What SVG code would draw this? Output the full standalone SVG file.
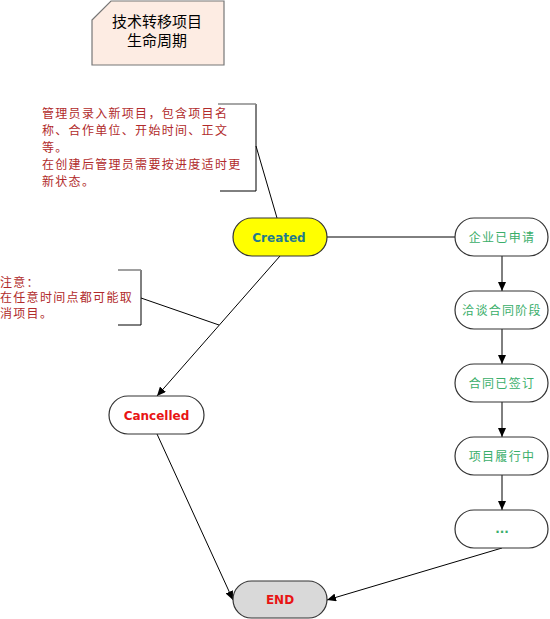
<svg xmlns="http://www.w3.org/2000/svg" width="550" height="619" viewBox="0 0 550 619">
<style>
.node{stroke:#333;stroke-width:1.2}
.cjk{font-family:"Noto Sans CJK SC","Noto Sans",sans-serif;font-size:12px;letter-spacing:1.3px}
.note{fill:#b12b2b}
.green{fill:#3aae6a;text-anchor:middle}
.lat{font-family:"DejaVu Sans",Verdana,sans-serif;font-size:12px;font-weight:bold;text-anchor:middle}
.edge{stroke:#000;stroke-width:1;fill:none}
.br{stroke:#000;stroke-width:1;fill:none}
</style>
<defs>
<marker id="arr" markerWidth="9" markerHeight="8" refX="9" refY="4" orient="auto" markerUnits="userSpaceOnUse">
<path d="M0,0 L9,4 L0,8 Z" fill="#000"/>
</marker>
</defs>
<rect width="550" height="619" fill="#fff"/>
<g id="title">
<polygon points="92,20 111,1 224,1 224,65 92,65" fill="#fdece3" stroke="#777" stroke-width="1.2"/>
<text x="157" y="27" font-family="Noto Sans CJK SC,sans-serif" font-size="15" text-anchor="middle" fill="#000">技术转移项目</text>
<text x="157" y="46" font-family="Noto Sans CJK SC,sans-serif" font-size="15" text-anchor="middle" fill="#000">生命周期</text>
</g>
<g id="note1">
<text class="cjk note" x="42" y="117.5">管理员录入新项目，包含项目名</text>
<text class="cjk note" x="42" y="134.5">称、合作单位、开始时间、正文</text>
<text class="cjk note" x="42" y="151.5">等。</text>
<text class="cjk note" x="42" y="168.5">在创建后管理员需要按进度适时更</text>
<text class="cjk note" x="42" y="185.5">新状态。</text>
<path class="br" d="M220,191 H256 V104"/>
<path d="M218,104 H256" stroke="#888" stroke-width="1.6"/>
</g>
<g id="note2">
<text class="cjk note" x="0" y="286.5">注意：</text>
<text class="cjk note" x="0" y="302">在任意时间点都可能取</text>
<text class="cjk note" x="0" y="317.5">消项目。</text>
<path class="br" d="M118,325 H141 V270"/>
<path d="M118,270 H141" stroke="#888" stroke-width="1.6"/>
</g>
<g id="connectors">
<line class="edge" x1="256" y1="146" x2="277" y2="218"/>
<line class="edge" x1="141" y1="298" x2="219" y2="325"/>
<line class="edge" x1="327" y1="237" x2="455" y2="237"/>
<line class="edge" x1="502" y1="256" x2="502" y2="291" marker-end="url(#arr)"/>
<line class="edge" x1="502" y1="329" x2="502" y2="364" marker-end="url(#arr)"/>
<line class="edge" x1="502" y1="402" x2="502" y2="437" marker-end="url(#arr)"/>
<line class="edge" x1="502" y1="475" x2="502" y2="510" marker-end="url(#arr)"/>
<line class="edge" x1="280" y1="256" x2="157" y2="396" marker-end="url(#arr)"/>
<line class="edge" x1="157" y1="434" x2="233" y2="600" marker-end="url(#arr)"/>
<line class="edge" x1="502" y1="548" x2="327" y2="600" marker-end="url(#arr)"/>
</g>
<g id="created">
<rect class="node" x="233" y="218" width="94" height="38" rx="19" fill="#ffff00"/>
<text class="lat" x="279" y="241.5" fill="#1f7a8c">Created</text>
</g>
<g id="applied">
<rect class="node" x="455" y="218" width="93" height="38" rx="19" fill="#fff"/>
<text class="cjk green" x="502" y="241.5">企业已申请</text>
</g>
<g id="negotiating">
<rect class="node" x="455" y="291" width="93" height="38" rx="19" fill="#fff"/>
<text class="cjk green" x="502" y="314.5">洽谈合同阶段</text>
</g>
<g id="signed">
<rect class="node" x="455" y="364" width="93" height="38" rx="19" fill="#fff"/>
<text class="cjk green" x="502" y="387.5">合同已签订</text>
</g>
<g id="executing">
<rect class="node" x="455" y="437" width="93" height="38" rx="19" fill="#fff"/>
<text class="cjk green" x="502" y="460.5">项目履行中</text>
</g>
<g id="more">
<rect class="node" x="455" y="510" width="93" height="38" rx="19" fill="#fff"/>
<text class="lat" x="502" y="533" fill="#3aae6a">...</text>
</g>
<g id="cancelled">
<rect class="node" x="109" y="396" width="95" height="38" rx="19" fill="#fff"/>
<text class="lat" x="156.5" y="419.5" fill="#e81414">Cancelled</text>
</g>
<g id="end">
<rect class="node" x="233" y="581" width="94" height="37" rx="18.5" fill="#d9d9d9"/>
<text class="lat" x="280" y="604" fill="#e81414">END</text>
</g>
</svg>
